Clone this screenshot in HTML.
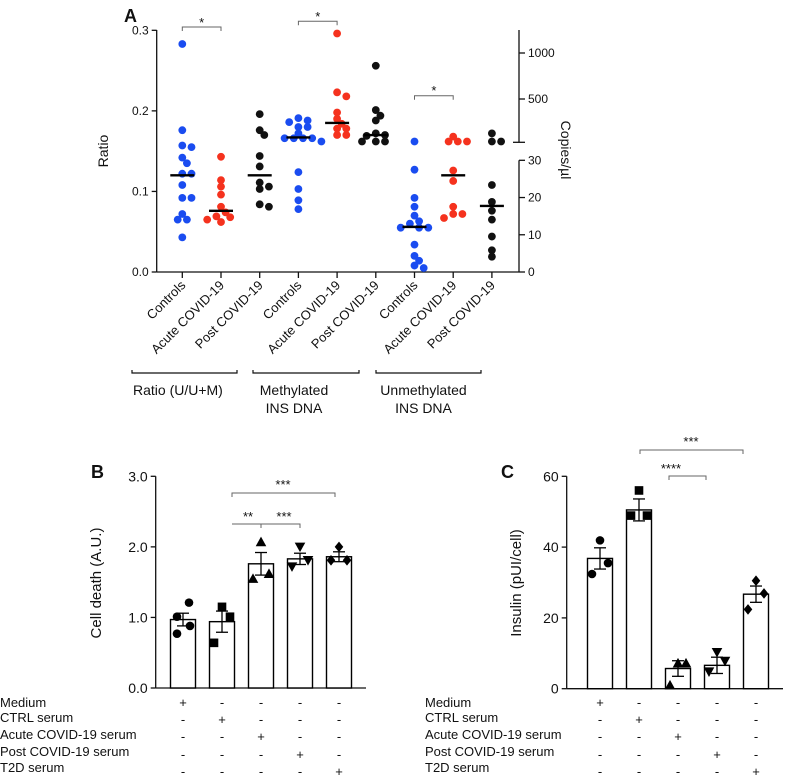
<!DOCTYPE html>
<html><head><meta charset="utf-8"><style>
html,body{margin:0;padding:0;background:#fff;}
svg{display:block;font-family:"Liberation Sans",Arial,sans-serif;}
</style></head><body>
<svg id="fig" width="800" height="781" viewBox="0 0 800 781" xmlns="http://www.w3.org/2000/svg"></svg>
<script>
// ---------- Panel A data (positions on left "Ratio" scale) ----------
const aCategories = ["Controls","Acute COVID-19","Post COVID-19","Controls","Acute COVID-19","Post COVID-19","Controls","Acute COVID-19","Post COVID-19"];
const aColors = ["#1a4cf0","#f5321e","#111","#1a4cf0","#f5321e","#111","#1a4cf0","#f5321e","#111"];
const aG1 = [0.283,0.176,0.157,0.155,0.142,0.135,0.122,0.122,0.108,0.092,0.092,0.072,0.065,0.065,0.043];
const aG2 = [0.143,0.114,0.106,0.096,0.081,0.074,0.069,0.068,0.065,0.062];
const aG3 = [0.196,0.176,0.170,0.144,0.131,0.111,0.106,0.103,0.084,0.081];
const aG4 = [0.191,0.188,0.186,0.180,0.180,0.172,0.166,0.166,0.166,0.166,0.162,0.124,0.103,0.089,0.078];
const aG5 = [0.296,0.223,0.218,0.198,0.190,0.184,0.178,0.178,0.170,0.170];
const aG6 = [0.256,0.201,0.194,0.188,0.172,0.170,0.169,0.162,0.162,0.162];
const aG7 = [0.162,0.127,0.092,0.081,0.070,0.063,0.060,0.055,0.055,0.055,0.034,0.020,0.014,0.008,0.005];
const aG8 = [0.168,0.162,0.162,0.162,0.126,0.113,0.081,0.072,0.072,0.067];
const aG9 = [0.172,0.162,0.162,0.108,0.087,0.076,0.065,0.044,0.027,0.019];
const aMedians = [0.120,0.076,0.120,0.167,0.185,0.170,0.056,0.120,0.082];
const aLeftTicks = [0.0,0.1,0.2,0.3];
const aRightLowTicks = [0,10,20,30];
const aRightHighTicks = [500,1000];
// ---------- Panel B data ----------
const bMeans = [0.97,0.94,1.76,1.83,1.86];
const bSem = [0.09,0.15,0.16,0.08,0.07];
const bPoints = [[1.21,1.01,0.88,0.77],[1.15,1.01,0.64],[2.07,1.62,1.55],[2.00,1.81,1.72],[2.00,1.81,1.81]];
const bTicks = [0,1,2,3];
// ---------- Panel C data ----------
const cMeans = [36.8,50.5,5.7,6.6,26.7];
const cSem = [3.0,3.1,2.2,2.3,2.3];
const cPoints = [[41.9,35.5,32.4],[56.0,48.9,48.9],[7.2,7.2,1.0],[10.3,7.8,4.8],[30.5,26.9,22.4]];
const cTicks = [0,20,40,60];
const markerShapes = ["circle","square","tri-up","tri-down","diamond"];
const condLabels = ["Medium","CTRL serum","Acute COVID-19 serum","Post COVID-19 serum","T2D serum"];

const NS="http://www.w3.org/2000/svg";
const svg=document.getElementById('fig');
function mk(tag,attrs,parent,text){const e=document.createElementNS(NS,tag);for(const k in attrs)e.setAttribute(k,attrs[k]);if(text!==undefined)e.textContent=text;(parent||svg).appendChild(e);return e;}
function grp(name){const g=mk('g',{});return g;}
function txt(parent,x,y,s,size,anchor,name,extra){const t=mk('text',Object.assign({x:x,y:y,'font-size':size,'text-anchor':anchor||'start',fill:'#111'},extra||{}),parent,s);


return t;}
function line(parent,x1,y1,x2,y2,stroke,w){return mk('line',{x1:x1,y1:y1,x2:x2,y2:y2,stroke:stroke||'#111','stroke-width':w||1.3},parent);}
function swarm(ys,minD,step){const order=ys.map((y,i)=>i).sort((a,b)=>ys[a]-ys[b]);const placed=[];const xs=new Array(ys.length);
 order.forEach(i=>{let best=null;for(let k=0;k<30&&best===null;k++){const cands=k===0?[0]:[k*step,-k*step];for(const c of cands){if(placed.every(p=>Math.hypot(p[0]-c,p[1]-ys[i])>=minD)){best=c;break;}}}
 xs[i]=best||0;placed.push([xs[i],ys[i]]);});return xs;}

// ================= PANEL A =================
const A=grp('panel-a');
const axL=156.7, axR=519, y0A=272, pxPerA=(272-30.3)/0.3;
const yA=v=>y0A-v*pxPerA;
const colX=i=>182.3+i*38.7;
txt(A,124,22,'A',18,'start','panel-a-label',{'font-weight':'bold'});
line(A,axL,30,axL,y0A);line(A,axL,y0A,axR,y0A);
aLeftTicks.forEach(t=>{line(A,axL-5,yA(t),axL,yA(t));txt(A,axL-8,yA(t)+4,t.toFixed(1),12,'end','y-tick-label');});
txt(A,0,0,'Ratio',14,'middle','y-axis-title',{transform:'translate(108,151) rotate(-90)'});
const yRL=v=>y0A-v*(272-160.3)/30;
line(A,axR,160.3,axR,y0A);line(A,axR,30,axR,142.3);
line(A,axR-6,142.3,axR+6,142.3);
aRightLowTicks.forEach(t=>{line(A,axR,yRL(t),axR+6,yRL(t));txt(A,axR+9,yRL(t)+4,String(t),12,'start','right-tick-label');});
const yRH=v=>99-(v-500)*(46/500);
aRightHighTicks.forEach(t=>{line(A,axR,yRH(t),axR+6,yRH(t));txt(A,axR+9,yRH(t)+4,String(t),12,'start','right-tick-label');});
txt(A,0,0,'Copies/µl',14,'middle','right-axis-title',{transform:'translate(561,150) rotate(90)'});
aCategories.forEach((c,i)=>{const x=colX(i);line(A,x,y0A,x,y0A+6);
 txt(A,0,0,c,13,'end','x-tick-label',{transform:`translate(${x+4},${y0A+14}) rotate(-45)`});});
const aGroups=[aG1,aG2,aG3,aG4,aG5,aG6,aG7,aG8,aG9];
aGroups.forEach((g,i)=>{const ys=g.map(yA);const xs=swarm(ys,6.2,4.6);
 g.forEach((v,j)=>{const c=mk('circle',{cx:colX(i)+xs[j],cy:ys[j],r:3.9,fill:aColors[i]},A);
 
 });
 const m=line(A,colX(i)-12,yA(aMedians[i]),colX(i)+12,yA(aMedians[i]),'#000',2.4);
 
 });
function bracket(parent,x1,x2,y,label,ly,lx){const p=mk('path',{d:`M${x1},${y+4}V${y}H${x2}V${y+4}`,fill:'none',stroke:'#666','stroke-width':1},parent);
 
 
 txt(parent,lx!==undefined?lx:(x1+x2)/2,ly,label,13,'middle','significance-stars');}
bracket(A,colX(0),colX(1),27,'*',27);
bracket(A,colX(3),colX(4),21.3,'*',21);
bracket(A,colX(6),colX(7),95.7,'*',95);
[[132,237,'Ratio (U/U+M)',null],[253,359,'Methylated','INS DNA'],[376,481,'Unmethylated','INS DNA']].forEach((b,i)=>{
 const p=mk('path',{d:`M${b[0]},${370}V373H${b[1]}V370`,fill:'none',stroke:'#111','stroke-width':1.2},A);
 
 
 if(i===0)txt(A,133,395,b[2],14,'start','group-label');
 else{const cx=(b[0]+b[1])/2+(i===2?-5:-12);txt(A,cx,395,b[2],14,'middle','group-label');txt(A,cx,413,b[3],14,'middle','group-label');}
});

// ================= bar panels =================
function marker(parent,shape,x,y,s){let e;
 if(shape==='circle')e=mk('circle',{cx:x,cy:y,r:s,fill:'#000'},parent);
 else if(shape==='square')e=mk('rect',{x:x-s,y:y-s,width:2*s,height:2*s,fill:'#000'},parent);
 else if(shape==='tri-up')e=mk('polygon',{points:`${x},${y-s-1} ${x-s-1},${y+s} ${x+s+1},${y+s}`,fill:'#000'},parent);
 else if(shape==='tri-down')e=mk('polygon',{points:`${x},${y+s+1} ${x-s-1},${y-s} ${x+s+1},${y-s}`,fill:'#000'},parent);
 else e=mk('polygon',{points:`${x},${y-s-1} ${x+s},${y} ${x},${y+s+1} ${x-s},${y}`,fill:'#000'},parent);
 
 }
function rankOffsets(n){return n===4?[6,-6,7,-6]:[0,8,-8];}
function barPanel(name,letter,lx,axX,axEnd,yTop,yBot,maxV,ticks,fmt,means,sem,pts,barX0,title,titleX,labX){
 const G=grp(name);const y=v=>yBot-v/maxV*(yBot-yTop);const bx=i=>barX0+i*39;
 txt(G,lx,478,letter,18,'start',name+'-label',{'font-weight':'bold'});
 line(G,axX,yTop,axX,yBot);line(G,axX,yBot,axEnd,yBot);
 ticks.forEach(t=>{line(G,axX-5,y(t),axX,y(t));txt(G,axX-8,y(t)+5,fmt(t),14,'end','y-tick-label');});
 txt(G,0,0,title,15,'middle','y-axis-title',{transform:`translate(${titleX},583) rotate(-90)`});
 means.forEach((m,i)=>{const r=mk('rect',{x:bx(i)-12.5,y:y(m),width:25,height:yBot-y(m),fill:'#fff',stroke:'#000','stroke-width':1.4},G);
  
  
  const order=pts[i].map((v,j)=>j).sort((a,b)=>pts[i][b]-pts[i][a]);const offs=rankOffsets(pts[i].length);
  order.forEach((j,rk)=>marker(G,markerShapes[i],bx(i)+offs[rk],y(pts[i][j]),4.3));
  line(G,bx(i),y(m+sem[i]),bx(i),y(m-sem[i]),'#000',1.3);
  line(G,bx(i)-6,y(m+sem[i]),bx(i)+6,y(m+sem[i]),'#000',1.3);
  line(G,bx(i)-6,y(m-sem[i]),bx(i)+6,y(m-sem[i]),'#000',1.3);
 });
 const rowY=[707,724,741,759,776];const labY=[707,722,739,756,772];
 condLabels.forEach((c,k)=>{txt(G,labX,labY[k],c,13,'start','condition-label');
  means.forEach((m,i)=>txt(G,bx(i),rowY[k],i===k?'+':'-',13,'middle','condition-sign'));});
 return {G,bx};
}
const B=barPanel('panel-b','B',91,155.7,366,476.3,688,3,bTicks,t=>t.toFixed(1),bMeans,bSem,bPoints,183,'Cell death (A.U.)',101,0);
bracket(B.G,232,335,493,'***',489,283);
(function(){const p=mk('path',{d:'M232,524H300V528M261,524V528',fill:'none',stroke:'#666','stroke-width':1},B.G);
 
 
 txt(B.G,248,521,'**',13,'middle','significance-stars');txt(B.G,284,521,'***',13,'middle','significance-stars');})();
const C=barPanel('panel-c','C',501,566.7,783,476.3,688.7,60,cTicks,t=>String(t),cMeans,cSem,cPoints,600,'Insulin (pUI/cell)',521,425);
bracket(C.G,640,743,450,'***',446,691);
(function(){const p=mk('path',{d:'M669,480V476H706V480',fill:'none',stroke:'#666','stroke-width':1},C.G);
 
 
 txt(C.G,671,473,'****',13,'middle','significance-stars');})();
</script>
</body></html>
